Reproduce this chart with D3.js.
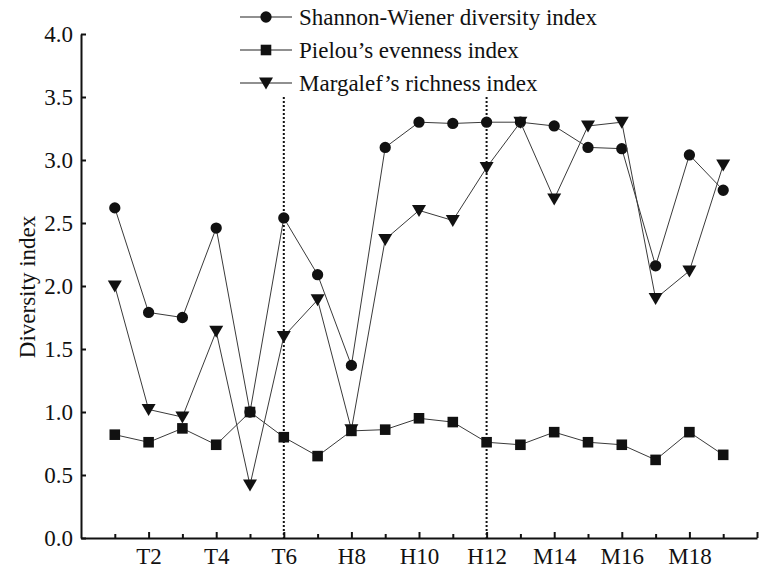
<!DOCTYPE html>
<html>
<head>
<meta charset="utf-8">
<script src="https://cdn.jsdelivr.net/npm/d3@7"></script>
<style>
  body { margin: 0; background: #fff; }
  svg text { font-family: "Liberation Serif", "Times New Roman", Times, serif; fill: #111; }
</style>
</head>
<body>
<script>
// sampling sites
var categories = ["T1","T2","T3","T4","T5","T6","H7","H8","H9","H10","H11","H12",
                  "M13","M14","M15","M16","M17","M18","M19"];

// index values
var shannon  = [2.62, 1.79, 1.75, 2.46, 1.00, 2.54, 2.09, 1.37, 3.10, 3.30, 3.29, 3.30,
                3.30, 3.27, 3.10, 3.09, 2.16, 3.04, 2.76];
var pielou   = [0.82, 0.76, 0.87, 0.74, 1.00, 0.80, 0.65, 0.85, 0.86, 0.95, 0.92, 0.76,
                0.74, 0.84, 0.76, 0.74, 0.62, 0.84, 0.66];
var margalef = [2.00, 1.02, 0.96, 1.64, 0.42, 1.60, 1.89, 0.86, 2.37, 2.60, 2.52, 2.94,
                3.30, 2.69, 3.27, 3.30, 1.90, 2.12, 2.96];

var xTickLabels = ["", "T2", "", "T4", "", "T6", "", "H8", "", "H10", "", "H12",
                   "", "M14", "", "M16", "", "M18", "", ""];
var yTicks = [0, 0.5, 1.0, 1.5, 2.0, 2.5, 3.0, 3.5, 4.0];
var dividers = [6, 12];   // dotted separators between site groups

var seriesNames = ["Shannon-Wiener diversity index", "Pielou\u2019s evenness index", "Margalef\u2019s richness index"];

var FONT = '"Liberation Serif", "Times New Roman", Times, serif';

var width = 760, height = 569;

var svg = d3.select("body").append("svg")
    .attr("width", width)
    .attr("height", height)
    .attr("font-family", FONT);

// scales
var x = d3.scaleLinear().domain([0, 20]).range([81, 757]);
var y = d3.scaleLinear().domain([0, 4]).range([538, 34]);

// dotted dividers
svg.append("g")
    .selectAll("line")
    .data(dividers)
    .enter().append("line")
    .attr("x1", d => x(d)).attr("x2", d => x(d))
    .attr("y1", y(3.5)).attr("y2", y(0))
    .style("stroke", "#111")
    .style("stroke-width", 2)
    .style("stroke-dasharray", "2,2");

// axes
var xAxis = d3.axisBottom(x)
    .tickValues(d3.range(1, 21))
    .tickSizeInner(-6)
    .tickSizeOuter(0)
    .tickPadding(10)
    .tickFormat((d, i) => xTickLabels[i]);

var gx = svg.append("g")
    .attr("transform", "translate(0," + y(0) + ")")
    .call(xAxis);
// odd sites get shorter ticks
gx.selectAll(".tick line").attr("y2", d => d % 2 ? -4 : -6);

var yAxis = d3.axisLeft(y)
    .tickValues(yTicks)
    .tickSizeInner(-5)
    .tickSizeOuter(0)
    .tickPadding(8)
    .tickFormat(d3.format(".1f"));

var gy = svg.append("g")
    .attr("transform", "translate(" + x(0) + ",0)")
    .call(yAxis);

[gx, gy].forEach(function (g) {
    g.attr("font-family", FONT).attr("font-size", 23);
    g.select(".domain").style("stroke", "#111").style("stroke-width", 2);
    g.selectAll(".tick line").style("stroke", "#111").style("stroke-width", 2);
    g.selectAll(".tick text")
        .style("font-family", FONT)
        .style("font-size", "23px")
        .style("fill", "#111");
});

// y axis title
svg.append("text")
    .attr("transform", "translate(35," + (y(2) + 1) + ") rotate(-90)")
    .attr("text-anchor", "middle")
    .style("font-family", FONT)
    .style("font-size", "23px")
    .text("Diversity index");

// marker shapes
var symCircle = d3.symbol().type(d3.symbolCircle).size(100);
var symSquare = d3.symbol().type(d3.symbolSquare).size(112);
var triangleDown = "M-7,-5.5L7,-5.5L0,6.5Z";

var series = [
    { name: seriesNames[0], values: shannon,  shape: symCircle() },
    { name: seriesNames[1], values: pielou,   shape: symSquare() },
    { name: seriesNames[2], values: margalef, shape: triangleDown }
];

var line = d3.line()
    .x((d, i) => x(i + 1))
    .y(d => y(d));

var drawOrder = [0, 2, 1];
drawOrder.forEach(function (k) {
    var s = series[k];
    var g = svg.append("g").attr("class", "series");
    g.append("path")
        .attr("d", line(s.values))
        .style("fill", "none")
        .style("stroke", "#3a3a3a")
        .style("stroke-width", 1);
    g.selectAll("path.mark")
        .data(s.values)
        .enter().append("path")
        .attr("class", "mark")
        .attr("transform", (d, i) => "translate(" + x(i + 1) + "," + y(d) + ")")
        .attr("d", s.shape)
        .style("fill", "#111");
});

// legend
var legend = svg.append("g").attr("transform", "translate(240,17)");
var rows = legend.selectAll("g")
    .data(series)
    .enter().append("g")
    .attr("transform", (d, i) => "translate(0," + i * 33 + ")");
rows.append("line")
    .attr("x1", 0).attr("x2", 52)
    .style("stroke", "#222")
    .style("stroke-width", 1.2);
rows.append("path")
    .attr("transform", "translate(26,0)")
    .attr("d", d => d.shape)
    .style("fill", "#111");
rows.append("text")
    .attr("x", 59)
    .attr("dy", "0.33em")
    .style("font-family", FONT)
    .style("font-size", "23px")
    .text(d => d.name);
</script>
</body>
</html>
